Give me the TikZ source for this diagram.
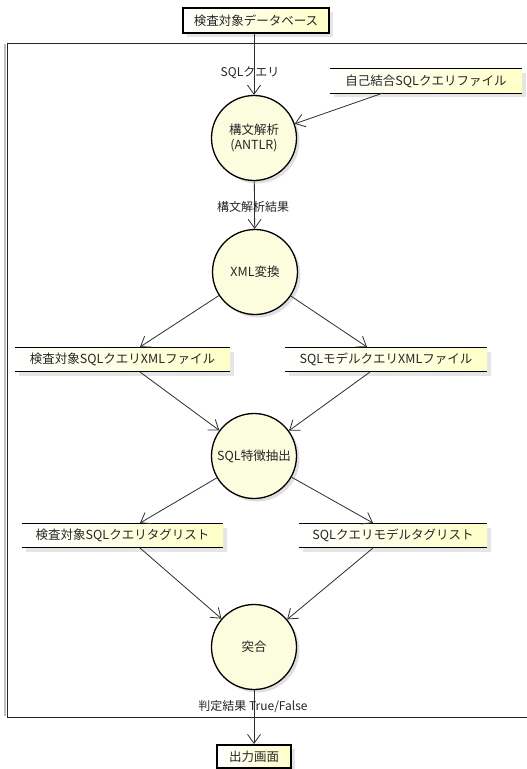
\documentclass[tikz,border=0pt]{standalone}
\usepackage{fontspec}
\setmainfont{Noto Sans CJK JP}
\usetikzlibrary{arrows.meta,shadows}
\definecolor{bubble}{RGB}{252,252,222}
\definecolor{paleyel}{RGB}{255,255,200}
\definecolor{ln}{RGB}{45,45,45}
\begin{document}
\begin{tikzpicture}[x=1pt,y=-1pt,
  every node/.style={font=\fontsize{12.5}{15}\selectfont, text=black!85},
  proc/.style={circle, draw=black, line width=1.3pt, fill=bubble, minimum size=85pt, inner sep=0pt, align=center,
    drop shadow={shadow xshift=3pt, shadow yshift=-3pt, opacity=0.25}},
  store/.style={draw=none, minimum height=24pt, inner sep=0pt, left color=white, right color=paleyel,
    drop shadow={shadow xshift=4pt, shadow yshift=-4pt, opacity=0.2}},
  storeline/.style={line width=1.3pt, black},
  ext/.style={draw=black, line width=2pt, inner sep=0pt, left color=white, right color=paleyel,
    drop shadow={shadow xshift=4pt, shadow yshift=-4pt, opacity=0.2}},
  flow/.style={draw=ln, line width=0.8pt, -{Straight Barb[length=9pt,width=13pt,line width=0.8pt]}},
  lbl/.style={fill=none, inner sep=1pt, font=\fontsize{12}{14}\selectfont}
]
\useasboundingbox (0,0) rectangle (527,769);
\fill[white] (0,0) rectangle (527,769);
% frame
\draw[black!25, line width=2pt] (5,44) -- (5,716);
\draw[black!85, line width=0.9pt] (527,43) -- (7,43) -- (7,717) -- (527,717);

% external entities
\node[ext, minimum width=146pt, minimum height=25pt] (db) at (256,20.5) {検査対象データベース};
\node[ext, minimum width=74pt, minimum height=23pt] (out) at (254,756.5) {出力画面};

% processes
\node[proc] (c1) at (254,138) {構文解析\\(ANTLR)};
\node[proc] (c2) at (255,272) {XML変換};
\node[proc] (c3) at (254,456) {SQL特徴抽出};
\node[proc] (c4) at (254,647) {突合};

% stores
\node[store, minimum width=192pt] (self) at (426,81) {自己結合SQLクエリファイル};
\node[store, minimum width=215pt] (lxml) at (122.5,359.5) {検査対象SQLクエリXMLファイル};
\node[store, minimum width=202pt] (rxml) at (386,359.5) {SQLモデルクエリXMLファイル};
\node[store, minimum width=201pt] (ltag) at (122.5,535.5) {検査対象SQLクエリタグリスト};
\node[store, minimum width=188pt] (rtag) at (393,535.5) {SQLクエリモデルタグリスト};
\foreach \s in {self,lxml,rxml,ltag,rtag}{
  \draw[storeline] (\s.north west) -- (\s.north east) (\s.south west) -- (\s.south east);
}

% connection points on stores
\coordinate (selfout) at (383,93);
\coordinate (lxmlin) at (140,347);
\coordinate (lxmlout) at (140,372);
\coordinate (rxmlin) at (367,347);
\coordinate (rxmlout) at (370,372);
\coordinate (ltagin) at (140,523);
\coordinate (ltagout) at (140,548);
\coordinate (rtagin) at (373,523);
\coordinate (rtagout) at (373,548);

% flows
\draw[flow] (db.south -| c1.north) -- (c1.north);
\draw[flow] (selfout) -- (c1);
\draw[flow] (c1) -- (c2);
\draw[flow] (c2) -- (lxmlin);
\draw[flow] (c2) -- (rxmlin);
\draw[flow] (lxmlout) -- (c3);
\draw[flow] (rxmlout) -- (c3);
\draw[flow] (c3) -- (ltagin);
\draw[flow] (c3) -- (rtagin);
\draw[flow] (ltagout) -- (c4);
\draw[flow] (rtagout) -- (c4);
\draw[flow] (c4.south) -- (out.north);

% labels
\node[lbl] (l1) at (250,73) {SQLクエリ};
\node[lbl] (l2) at (253,207) {構文解析結果};
\node[lbl] (l3) at (253,707) {判定結果 True/False};
\end{tikzpicture}
\end{document}
